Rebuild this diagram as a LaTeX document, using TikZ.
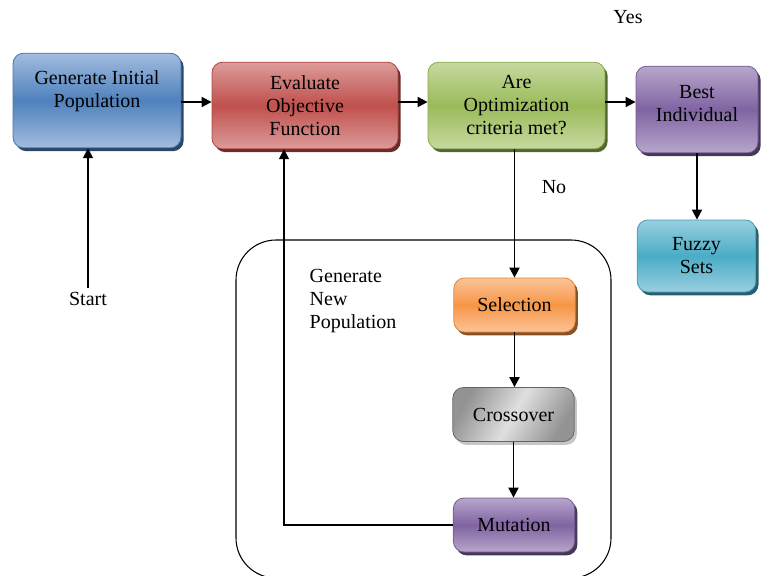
\documentclass[tikz,border=0pt]{standalone}
\usepackage{fontspec}
\setmainfont{Liberation Serif}
\usetikzlibrary{arrows.meta,shadows}

\definecolor{blueM}{HTML}{4F81BD}\definecolor{blueL}{HTML}{A2BCDE}
\definecolor{redM}{HTML}{C0504D}\definecolor{redL}{HTML}{DC9C9A}
\definecolor{greenM}{HTML}{9BBB59}\definecolor{greenL}{HTML}{C6D9A0}
\definecolor{purpM}{HTML}{8064A2}\definecolor{purpL}{HTML}{B7A6CB}
\definecolor{tealM}{HTML}{4BACC6}\definecolor{tealL}{HTML}{98CFDF}
\definecolor{orangeM}{HTML}{F79646}\definecolor{orangeL}{HTML}{FBC397}

\begin{document}
\begin{tikzpicture}[x=0.75pt, y=-0.75pt, every node/.style={align=center, font=\fontsize{15}{17.25}\selectfont}, >={Triangle[length=7.5pt,width=7.5pt]}]
    % styles
    \tikzstyle{stage} = [rectangle, rounded corners=8pt, line width=0.6pt, inner sep=0pt, minimum width=91pt, minimum height=40.5pt]
    \tikzstyle{arrow} = [line width=1.4pt,->]
    \tikzset{tint/.style 2 args={top color=#1, bottom color=#1, middle color=#2, draw=#2!90!black,
        drop shadow={shadow xshift=2pt, shadow yshift=-2.5pt, fill=#2!55!black, opacity=1}}}
    \useasboundingbox (0,0) rectangle (763,575);

    % main row
    \node[stage, tint={blueL}{blueM}, minimum width=126pt, minimum height=71pt, text depth=17pt] (init) at (97,100.5) {Generate Initial\\Population};
    \node[stage, tint={redL}{redM}, minimum width=139.5pt, minimum height=65pt] (eval) at (305,105.5) {Evaluate\\Objective\\Function};
    \node[stage, tint={greenL}{greenM}, minimum width=132.7pt, minimum height=65pt] (crit) at (516.5,105.5) {Are\\Optimization\\criteria met?};
    \node[stage, tint={purpL}{purpM}, minimum width=91.5pt, minimum height=65pt, text depth=9pt] (best) at (697,109.5) {Best\\Individual};
    \node[stage, tint={tealL}{tealM}, minimum width=89pt, minimum height=54pt] (fuzzy) at (696.5,256) {Fuzzy\\Sets};

    % new population
    \draw[line width=0.8pt, rounded corners=30pt] (236,240) rectangle (611,578);
    \node[stage, tint={orangeL}{orangeM}] (sel) at (514.5,305) {Selection};
    \node[stage, draw=gray!80!black, left color=gray!85, right color=gray!85, middle color=gray!25, shading angle=60,
        drop shadow={shadow xshift=2pt, shadow yshift=-2.5pt, fill=gray!45, opacity=1}] (cross) at (513.5,414.5) {Crossover};
    \node[stage, tint={purpL}{purpM}] (mut) at (514,525) {Mutation};
    \node[align=left, anchor=west] (newpop) at (305,301) {Generate\\New\\Population};

    % texts
    \node (start) at (88,299) {Start};
    \node (yes) at (628,17) {Yes};
    \node (no) at (554,187) {No};

    % arrows
    \draw[arrow] (start.north) -- (start.north |- init.south);
    \draw[arrow] (init.east |- 0,102) -- (eval.west |- 0,102);
    \draw[arrow] (eval.east |- 0,102) -- (crit.west |- 0,102);
    \draw[arrow] (crit.east |- 0,102) -- (best.west |- 0,102);
    \draw[arrow] (best.south) -- (best.south |- fuzzy.north);
    \draw[arrow] (crit.south -| sel.north) -- (sel.north);
    \draw[arrow] (sel.south) -- (sel.south |- cross.north);
    \draw[arrow] (cross.south) -- (cross.south |- mut.north);
    \draw[arrow] (mut.west) -| ([xshift=-15.75pt]eval.south);
\end{tikzpicture}
\end{document}
